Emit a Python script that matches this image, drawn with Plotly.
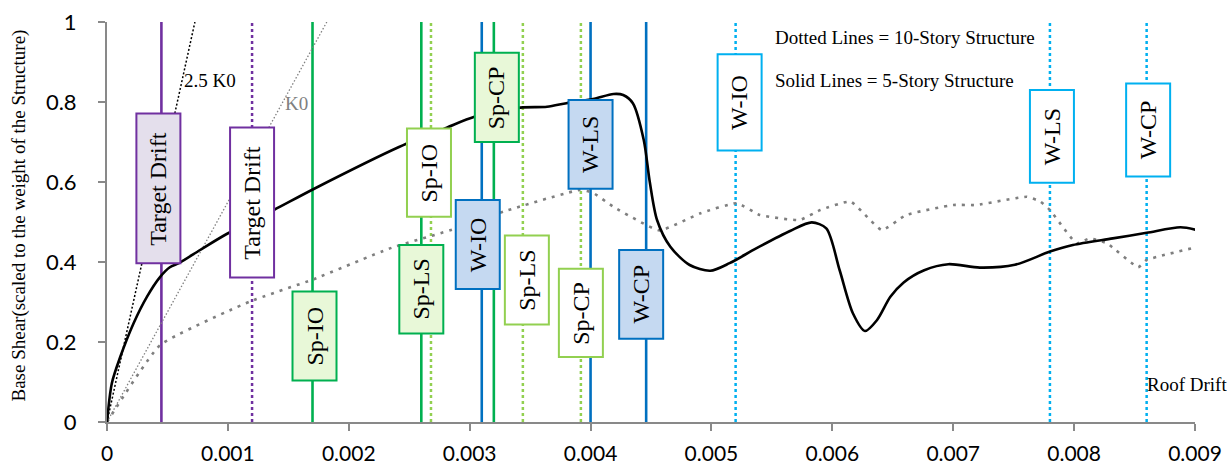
import plotly.graph_objects as go

# ---------------- data ----------------
# 5-story structure pushover curve (solid black)
drift_5 = [0, 0.00004, 0.00011, 0.00022, 0.00033, 0.00044, 0.00052, 0.00060, 0.00077, 0.00099,
           0.00138, 0.00171, 0.00242, 0.00281, 0.00304, 0.00342, 0.00364, 0.00380, 0.00402, 0.00419,
           0.00427, 0.00435, 0.00444, 0.00449, 0.00455, 0.00466, 0.00482, 0.00499, 0.00515, 0.00537,
           0.00565, 0.00583, 0.00595, 0.00606, 0.00617, 0.00627, 0.00637, 0.00648, 0.00659, 0.00676,
           0.00696, 0.00722, 0.00751, 0.00780, 0.00799, 0.00832, 0.00860, 0.00888, 0.00901]
shear_5 = [0, 0.097, 0.163, 0.247, 0.313, 0.363, 0.387, 0.398, 0.430, 0.470,
           0.530, 0.5825, 0.688, 0.736, 0.763, 0.786, 0.788, 0.797, 0.8075, 0.820,
           0.8175, 0.797, 0.705, 0.600, 0.505, 0.438, 0.3925, 0.378, 0.397, 0.434,
           0.4775, 0.499, 0.484, 0.380, 0.272, 0.2275, 0.255, 0.313, 0.349, 0.3795,
           0.3945, 0.386, 0.393, 0.426, 0.4425, 0.459, 0.473, 0.4867, 0.480]

# 10-story structure pushover curve (dotted gray)
drift_10 = [0, 0.00044, 0.00118, 0.00171, 0.00234, 0.00289, 0.00328, 0.00391, 0.00402, 0.00419,
            0.00457, 0.00491, 0.00521, 0.00540, 0.00573, 0.00590, 0.00615, 0.00641, 0.00661, 0.00700,
            0.00719, 0.00761, 0.00772, 0.00780, 0.00802, 0.00813, 0.00827, 0.00853, 0.00860, 0.00901]
shear_10 = [0, 0.1925, 0.301, 0.357, 0.434, 0.484, 0.526, 0.580, 0.573, 0.538,
            0.479, 0.522, 0.547, 0.5175, 0.505, 0.530, 0.551, 0.480, 0.5175, 0.5425,
            0.5425, 0.563, 0.551, 0.530, 0.447, 0.459, 0.447, 0.387, 0.405, 0.437]

# initial stiffness reference lines
K0 = 550.0
stiffness_factors = [1.0, 2.5]
stiffness_labels = ["K0", "2.5 K0"]

# performance levels (vertical lines)
level_names = ["Target Drift", "Target Drift", "Sp-IO", "Sp-LS", "Sp-CP", "Sp-IO", "Sp-LS", "Sp-CP",
               "W-IO", "W-LS", "W-CP", "W-IO", "W-LS", "W-CP"]
level_drift = [0.00045, 0.0012, 0.0017, 0.0026, 0.0032, 0.00268, 0.00344, 0.00392,
               0.0031, 0.0040, 0.00446, 0.0052, 0.0078, 0.0086]
level_story = [5, 10, 5, 5, 5, 10, 10, 10, 5, 5, 5, 10, 10, 10]
level_group = ["TD", "TD", "Sp", "Sp", "Sp", "Sp", "Sp", "Sp", "W", "W", "W", "W", "W", "W"]

x_ticks = [0, 0.001, 0.002, 0.003, 0.004, 0.005, 0.006, 0.007, 0.008, 0.009]
x_tick_text = ["0", "0.001", "0.002", "0.003", "0.004", "0.005", "0.006", "0.007", "0.008", "0.009"]
y_ticks = [0, 0.2, 0.4, 0.6, 0.8, 1.0]
y_tick_text = ["0", "0.2", "0.4", "0.6", "0.8", "1"]

# ---------------- label box layout ----------------
box_y0 = [0.397, 0.361, 0.104, 0.221, 0.700, 0.513, 0.244, 0.1625, 0.3325, 0.583, 0.208, 0.679, 0.598, 0.6135]
box_y1 = [0.771, 0.736, 0.326, 0.4425, 0.923, 0.734, 0.466, 0.383, 0.555, 0.805, 0.430, 0.9195, 0.830, 0.846]
box_dx = [-3, 0, 2, 0, 3, -2, 4, 0, -4, 0, -5, 4, 2, 1.5]
BOX_W = 44

line_color = {("TD", 5): "#7030A0", ("TD", 10): "#7030A0",
              ("Sp", 5): "#00B050", ("Sp", 10): "#92D050",
              ("W", 5): "#0070C0", ("W", 10): "#00B0F0"}
fill_color = {("TD", 5): "#E4DFEC", ("TD", 10): "#FFFFFF",
              ("Sp", 5): "#E8F8D8", ("Sp", 10): "#FFFFFF",
              ("W", 5): "#C5D9F1", ("W", 10): "#FFFFFF"}

SERIF = "Liberation Serif, Times New Roman, serif"
AXIS_GRAY = "#898989"

fig = go.Figure()

# vertical performance lines
for name, xd, st, gp in zip(level_names, level_drift, level_story, level_group):
    fig.add_trace(go.Scatter(
        x=[xd, xd], y=[0, 1], mode="lines", hoverinfo="skip", showlegend=False,
        line=dict(color=line_color[(gp, st)], width=2.6 if st == 5 else 2.5,
                  dash="solid" if st == 5 else "3px,3px")))

# stiffness reference lines
for f, lab in zip(stiffness_factors, stiffness_labels):
    xe = 1.0 / (K0 * f)
    fig.add_trace(go.Scatter(
        x=[0, xe], y=[0, K0 * f * xe], mode="lines", hoverinfo="skip", showlegend=False,
        line=dict(color="#808080" if f == 1.0 else "#000000", width=1.3 if f == 1.0 else 1.5,
                  dash="1.5px,2px" if f == 1.0 else "2px,2px")))

# pushover curves
fig.add_trace(go.Scatter(x=drift_10, y=shear_10, mode="lines", showlegend=False,
                         line=dict(color="#7F7F7F", width=2.6, dash="3px,6px", shape="spline", smoothing=0.4)))
fig.add_trace(go.Scatter(x=drift_5, y=shear_5, mode="lines", showlegend=False,
                         line=dict(color="#000000", width=2.6, shape="spline", smoothing=0.8)))

shapes = []
annotations = []
for name, xd, st, gp, y0, y1, dx in zip(level_names, level_drift, level_story, level_group,
                                        box_y0, box_y1, box_dx):
    shapes.append(dict(type="rect", xref="x", yref="y", xsizemode="pixel", xanchor=xd,
                       x0=dx - BOX_W / 2, x1=dx + BOX_W / 2, y0=y0, y1=y1,
                       fillcolor=fill_color[(gp, st)],
                       line=dict(color=line_color[(gp, st)], width=2), layer="above"))
    annotations.append(dict(x=xd, y=(y0 + y1) / 2, xref="x", yref="y", xshift=dx,
                            text=name, textangle=-90, showarrow=False,
                            font=dict(family=SERIF, size=24, color="#000000")))

annotations += [
    dict(x=0.00085, y=0.855, xref="x", yref="y", text="2.5 K0", showarrow=False,
         font=dict(family=SERIF, size=19, color="#000000")),
    dict(x=0.00157, y=0.796, xref="x", yref="y", text="K0", showarrow=False,
         font=dict(family=SERIF, size=19, color="#808080")),
    dict(x=0.00551, y=0.961, xref="x", yref="y", xanchor="left", text="Dotted Lines = 10-Story Structure",
         showarrow=False, font=dict(family=SERIF, size=19, color="#000000")),
    dict(x=0.00551, y=0.855, xref="x", yref="y", xanchor="left", text="Solid Lines = 5-Story Structure",
         showarrow=False, font=dict(family=SERIF, size=19, color="#000000")),
    dict(x=0.008583, y=0.094, xref="x", yref="y", xanchor="left", text="Roof Drift",
         showarrow=False, font=dict(family=SERIF, size=19, color="#000000")),
    dict(x=-0.0813, y=0.515, xref="paper", yref="paper", xanchor="center", yanchor="middle",
         textangle=-90, text="Base Shear(scaled to the weight of the Structure)", showarrow=False,
         font=dict(family=SERIF, size=19, color="#000000")),
]

fig.update_layout(
    width=1227, height=469,
    margin=dict(l=107, r=32, t=22, b=47, autoexpand=False),
    paper_bgcolor="white", plot_bgcolor="white",
    shapes=shapes, annotations=annotations,
    xaxis=dict(range=[0, 0.009], tickvals=x_ticks, ticktext=x_tick_text, automargin=False,
               showline=True, linecolor=AXIS_GRAY, linewidth=2, ticks="outside",
               ticklen=7, tickwidth=2, tickcolor=AXIS_GRAY, showgrid=False, zeroline=False,
               tickfont=dict(family="Lato", size=21, color="#000000"), ticklabelstandoff=5),
    yaxis=dict(range=[0, 1], tickvals=y_ticks, ticktext=y_tick_text, automargin=False,
               showline=True, linecolor=AXIS_GRAY, linewidth=2, ticks="outside",
               ticklen=7, tickwidth=2, tickcolor=AXIS_GRAY, showgrid=False, zeroline=False,
               tickfont=dict(family="Lato", size=22, color="#000000"), ticklabelstandoff=17),
)

fig.write_html("out.html")
